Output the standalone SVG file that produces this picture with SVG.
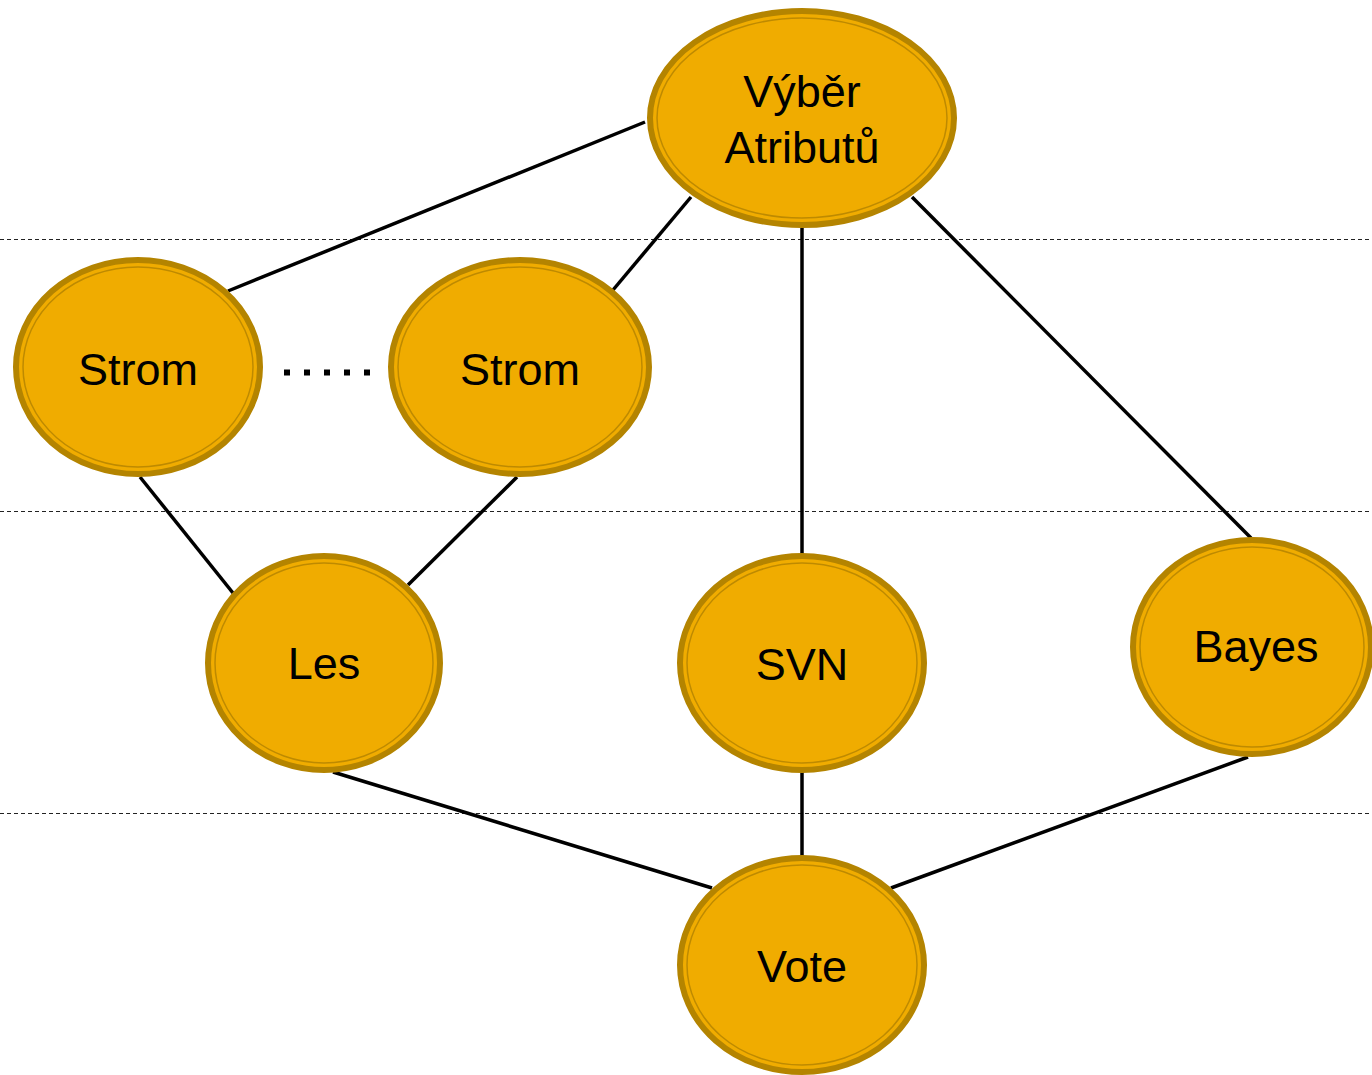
<svg xmlns="http://www.w3.org/2000/svg" width="1372" height="1075" viewBox="0 0 1372 1075">
<style>
.outer{fill:#F0AC00;stroke:#B48400;stroke-width:6}
.inner{fill:none;stroke:#BE8A00;stroke-width:1.5}
.lbl{font-family:"Liberation Sans",Arial,sans-serif;font-size:45px;fill:#000;text-anchor:middle}
.edge{stroke:#000;stroke-width:3.5;fill:none}
.sep{stroke:#222;stroke-width:1;stroke-dasharray:4,3;fill:none}
</style>
<rect width="1372" height="1075" fill="#fff"/>
<g id="separators">
<line class="sep" x1="0" y1="239.5" x2="1372" y2="239.5"/>
<line class="sep" x1="0" y1="511.5" x2="1372" y2="511.5"/>
<line class="sep" x1="0" y1="813.5" x2="1372" y2="813.5"/>
</g>
<g id="connectors">
<line class="edge" x1="645" y1="122" x2="228" y2="291"/>
<line class="edge" x1="691" y1="197" x2="613" y2="290"/>
<line class="edge" x1="802" y1="228" x2="802" y2="555"/>
<line class="edge" x1="912" y1="197" x2="1251" y2="538"/>
<line class="edge" x1="140" y1="477" x2="233" y2="593"/>
<line class="edge" x1="517" y1="477" x2="408" y2="585"/>
<line class="edge" x1="333" y1="772" x2="712" y2="888"/>
<line class="edge" x1="802" y1="772" x2="802" y2="858"/>
<line class="edge" x1="1248" y1="757" x2="891" y2="888"/>
<line x1="284" y1="372.5" x2="372" y2="372.5" stroke="#000" stroke-width="6" stroke-dasharray="6,14"/>
</g>
<g id="vyber">
<ellipse class="outer" cx="802" cy="118" rx="152" ry="107"/>
<ellipse class="inner" cx="802" cy="118" rx="145" ry="100"/>
<text class="lbl" x="802" y="107">Výběr</text>
<text class="lbl" x="802" y="163">Atributů</text>
</g>
<g id="strom1">
<ellipse class="outer" cx="138" cy="367" rx="122" ry="107"/>
<ellipse class="inner" cx="138" cy="367" rx="115" ry="100"/>
<text class="lbl" x="138" y="385">Strom</text>
</g>
<g id="strom2">
<ellipse class="outer" cx="520" cy="367" rx="129" ry="107"/>
<ellipse class="inner" cx="520" cy="367" rx="122" ry="100"/>
<text class="lbl" x="520" y="385">Strom</text>
</g>
<g id="les">
<ellipse class="outer" cx="324" cy="663" rx="116" ry="107"/>
<ellipse class="inner" cx="324" cy="663" rx="109" ry="100"/>
<text class="lbl" x="324" y="679">Les</text>
</g>
<g id="svn">
<ellipse class="outer" cx="802" cy="663" rx="122" ry="107"/>
<ellipse class="inner" cx="802" cy="663" rx="115" ry="100"/>
<text class="lbl" x="802" y="680">SVN</text>
</g>
<g id="bayes">
<ellipse class="outer" cx="1252" cy="647" rx="119" ry="107"/>
<ellipse class="inner" cx="1252" cy="647" rx="112" ry="100"/>
<text class="lbl" x="1256" y="662">Bayes</text>
</g>
<g id="vote">
<ellipse class="outer" cx="802" cy="965" rx="122" ry="107"/>
<ellipse class="inner" cx="802" cy="965" rx="115" ry="100"/>
<text class="lbl" x="802" y="982">Vote</text>
</g>
</svg>
